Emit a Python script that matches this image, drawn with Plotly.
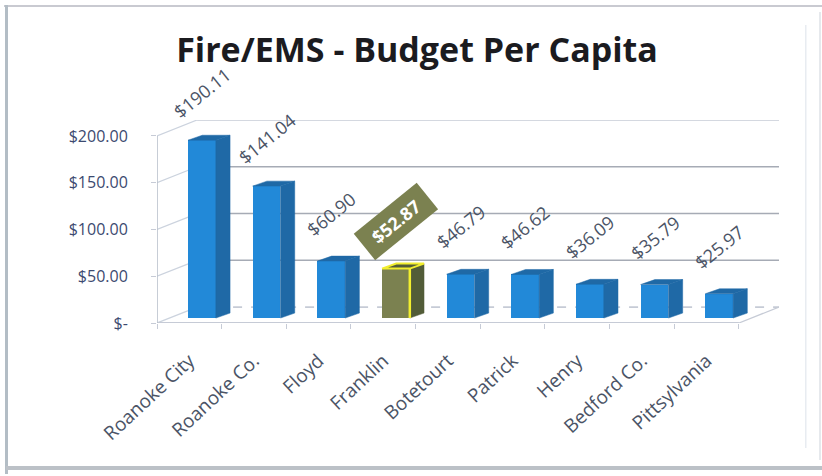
import plotly.graph_objects as go

categories = ["Roanoke City", "Roanoke Co.", "Floyd", "Franklin", "Botetourt", "Patrick", "Henry", "Bedford Co.", "Pittsylvania"]
values = [190.11, 141.04, 60.90, 52.87, 46.79, 46.62, 36.09, 35.79, 25.97]
labels = ["$190.11", "$141.04", "$60.90", "$52.87", "$46.79", "$46.62", "$36.09", "$35.79", "$25.97"]
y_ticks = [0, 50, 100, 150, 200]
y_tick_text = ["$-", "$50.00", "$100.00", "$150.00", "$200.00"]
title_text = "Fire/EMS - Budget Per Capita"
highlight = "Franklin"

BLUE, BLUE_D = "#2289d8", "#1f69a6"
OLIVE, OLIVE_D = "#7b8150", "#525c38"
YELLOW = "#f2ee2e"
LABEL = "#4b5466"
FONT = "Open Sans"
W, H = 822, 476
L, R, T, B = 157, 779, 120, 323

# oblique projection, in axis units
WALL_DX, WALL_DY = 0.62, 17.0     # depth of chart floor
BAR_X0, BAR_W = -0.02, 0.43       # front face of bar relative to category centre
BAR_BASE = 5.3
BAR_DX, BAR_DY = 0.22, 5.3        # depth of a bar


def px(x):
    return (x - L) / (R - L)


def py(y):
    return (B - y) / (B - T)


fig = go.Figure()
xs = list(range(len(categories)))
x_left, x_right = -0.5, len(categories) - 0.5


def line(x, y, color, width, dash="solid"):
    fig.add_trace(go.Scatter(x=x, y=y, mode="lines", line=dict(color=color, width=width, dash=dash),
                             hoverinfo="skip", showlegend=False, xaxis="x", yaxis="y"))


# back wall gridlines and floor
for v in y_ticks:
    if v == 0:
        line([x_left + WALL_DX, x_right + WALL_DX], [v + WALL_DY] * 2, "#c6cbd6", 1.6, "dash")
    else:
        line([x_left + WALL_DX, x_right + WALL_DX], [v + WALL_DY] * 2, "#c6cbd6" if v == 200 else "#a6abb5", 1.6)
    line([x_left, x_left + WALL_DX], [v, v + WALL_DY], "#ccd3de", 1.3)
line([x_right, x_right + WALL_DX], [0, WALL_DY], "#c6cbd6", 1.3)
line([x_left, x_right], [0, 0], "#c6cbd6", 1.8)
line([x_left, x_left], [0, 200], "#b9c0cc", 1.6)

# front faces (on an overlaid pair of axes, so that they cover the walls)
fig.add_trace(go.Bar(
    x=[i + BAR_X0 + BAR_W / 2 for i in xs], y=values, base=BAR_BASE, width=BAR_W,
    marker=dict(color=[OLIVE if c == highlight else BLUE for c in categories], line=dict(width=0)),
    showlegend=False, hoverinfo="skip", xaxis="x2", yaxis="y2"))

# side and top faces
for i, (c, v) in enumerate(zip(categories, values)):
    dark = OLIVE_D if c == highlight else BLUE_D
    xl = i + BAR_X0
    xr = xl + BAR_W
    y0 = BAR_BASE
    y1 = BAR_BASE + v
    fig.add_trace(go.Scatter(
        x=[xr, xr + BAR_DX, xr + BAR_DX, xr, xr], y=[y0, y0 + BAR_DY, y1 + BAR_DY, y1, y0],
        mode="lines", fill="toself", fillcolor=dark, line=dict(color=dark, width=0.5),
        hoverinfo="skip", showlegend=False, xaxis="x2", yaxis="y2"))
    fig.add_trace(go.Scatter(
        x=[xl, xl + BAR_DX, xr + BAR_DX, xr, xl], y=[y1, y1 + BAR_DY, y1 + BAR_DY, y1, y1],
        mode="lines", fill="toself", fillcolor=dark,
        line=dict(color=YELLOW if c == highlight else dark, width=2 if c == highlight else 0.5),
        hoverinfo="skip", showlegend=False, xaxis="x2", yaxis="y2"))
    if c == highlight:
        fig.add_trace(go.Scatter(x=[xr, xr], y=[y0, y1], mode="lines", line=dict(color=YELLOW, width=2.5),
                                 hoverinfo="skip", showlegend=False, xaxis="x2", yaxis="y2"))

annotations = []
for i, (c, v, t) in enumerate(zip(categories, values, labels)):
    hl = c == highlight
    annotations.append(dict(
        x=i + BAR_X0 + BAR_W / 2, y=BAR_BASE + v, xref="x2", yref="y2", yshift=47,
        text=f"<b>{t}</b>" if hl else t, showarrow=False,
        textangle=-39, font=dict(family=FONT, size=18, color="white" if hl else LABEL),
        bgcolor=OLIVE if hl else None, width=78 if hl else None, height=31 if hl else None, align="center"))


def rect(x0, y0, x1, y1, color):
    return dict(type="rect", xref="paper", yref="paper", x0=px(x0), x1=px(x1), y0=py(y1), y1=py(y0),
                line=dict(width=0), fillcolor=color, layer="below")


shapes = [
    rect(4, 5, 822, 7, "#c9cad1"),
    rect(5, 5, 8, 474, "#b3bdc5"),
    rect(6, 466, 822, 470, "#bcc1c7"),
    rect(805, 25, 806.5, 448, "#e8ecf1"),
    rect(819, 12, 821, 460, "#e6e9ed"),
]

x_range = [x_left, x_right + WALL_DX]
y_range = [0, 200 + WALL_DY]
fig.update_layout(
    width=W, height=H, autosize=False,
    margin=dict(l=L, r=W - R, t=T, b=H - B, pad=0),
    paper_bgcolor="white", plot_bgcolor="rgba(0,0,0,0)",
    bargap=0, showlegend=False,
    title=dict(text=f"<b>{title_text}</b>", x=417 / W, xanchor="center", y=1 - 50 / H, yanchor="middle",
               font=dict(family=FONT, size=34, color="#1b1b1f")),
    xaxis=dict(range=x_range, tickmode="array", tickvals=xs, ticktext=categories, tickangle=-43,
               ticks="", ticklabelstandoff=22, tickfont=dict(family=FONT, size=19, color=LABEL),
               showgrid=False, zeroline=False, showline=False,
               minor=dict(tickmode="array", tickvals=[x + 0.5 for x in xs] + [x_left], ticks="outside",
                          ticklen=5, tickcolor="#c6cbd6", tickwidth=1.3, showgrid=False)),
    yaxis=dict(range=y_range, tickmode="array", tickvals=y_ticks, ticktext=y_tick_text, ticks="outside",
               ticklen=5, tickcolor="#c6cbd6", ticklabelstandoff=20,
               tickfont=dict(family=FONT, size=16, color="#3c4a70"),
               showgrid=False, zeroline=False, showline=False),
    xaxis2=dict(range=x_range, overlaying="x", visible=False),
    yaxis2=dict(range=y_range, overlaying="y", visible=False),
    annotations=annotations, shapes=shapes,
)
fig.write_html("out.html", config={"displayModeBar": False}, post_script="document.body.style.margin='0';")
